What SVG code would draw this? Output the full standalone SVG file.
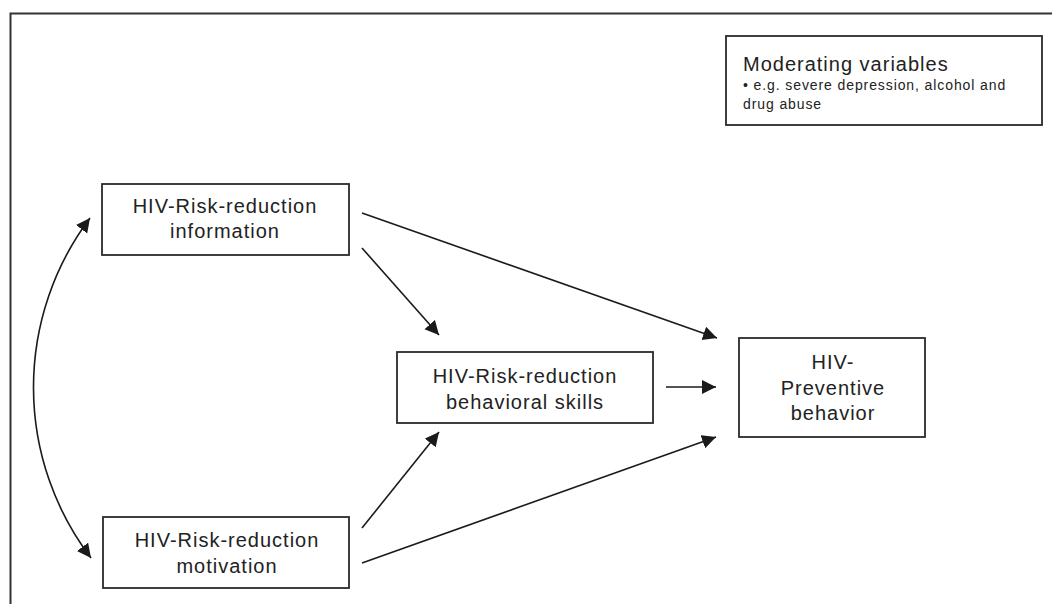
<svg xmlns="http://www.w3.org/2000/svg" width="1052" height="604" viewBox="0 0 1052 604">
<style>
  .box { fill: #ffffff; stroke: #2a2a2a; stroke-width: 1.8; }
  .lbl { font-family: "Liberation Sans", Arial, sans-serif; font-size: 20px; letter-spacing: 1px; fill: #222; text-anchor: middle; }
  .mod1 { font-family: "Liberation Sans", Arial, sans-serif; font-size: 20px; letter-spacing: 1px; fill: #222; }
  .mod2 { font-family: "Liberation Sans", Arial, sans-serif; font-size: 14px; letter-spacing: 0.9px; fill: #222; }
  .edge { fill: none; stroke: #1a1a1a; stroke-width: 1.6; }
</style>
<defs>
  <marker id="ah" markerUnits="userSpaceOnUse" markerWidth="16" markerHeight="16" refX="14" refY="7" orient="auto-start-reverse">
    <path d="M0,0 L14,7 L0,14 z" fill="#1a1a1a"/>
  </marker>
</defs>
<rect width="1052" height="604" fill="#ffffff"/>
<path d="M10.5 604 V13.5 H1052" fill="none" stroke="#333" stroke-width="2"/>

<g id="moderating">
  <rect class="box" x="726" y="36" width="316" height="89"/>
  <text class="mod1" x="743" y="71">Moderating variables</text>
  <text class="mod2" x="743" y="90">• e.g. severe depression, alcohol and</text>
  <text class="mod2" x="743" y="109">drug abuse</text>
</g>

<g id="information">
  <rect class="box" x="102" y="184" width="247" height="71"/>
  <text class="lbl" x="225" y="213">HIV-Risk-reduction</text>
  <text class="lbl" x="225" y="238">information</text>
</g>

<g id="motivation">
  <rect class="box" x="103" y="517" width="246" height="71"/>
  <text class="lbl" x="227" y="547">HIV-Risk-reduction</text>
  <text class="lbl" x="227" y="573">motivation</text>
</g>

<g id="skills">
  <rect class="box" x="397" y="352" width="256" height="71"/>
  <text class="lbl" x="525" y="383">HIV-Risk-reduction</text>
  <text class="lbl" x="525" y="409">behavioral skills</text>
</g>

<g id="preventive">
  <rect class="box" x="739" y="338" width="186" height="99"/>
  <text class="lbl" x="833" y="369">HIV-</text>
  <text class="lbl" x="833" y="395">Preventive</text>
  <text class="lbl" x="833" y="420">behavior</text>
</g>

<g id="connectors">
  <path class="edge" d="M90 218 A282 282 0 0 0 91 558" marker-start="url(#ah)" marker-end="url(#ah)"/>
  <line class="edge" x1="362" y1="213" x2="717" y2="338" marker-end="url(#ah)"/>
  <line class="edge" x1="362" y1="248" x2="439" y2="335" marker-end="url(#ah)"/>
  <line class="edge" x1="666" y1="387" x2="716" y2="387" marker-end="url(#ah)"/>
  <line class="edge" x1="362" y1="528" x2="439" y2="432" marker-end="url(#ah)"/>
  <line class="edge" x1="362" y1="563" x2="716" y2="437" marker-end="url(#ah)"/>
</g>
</svg>
